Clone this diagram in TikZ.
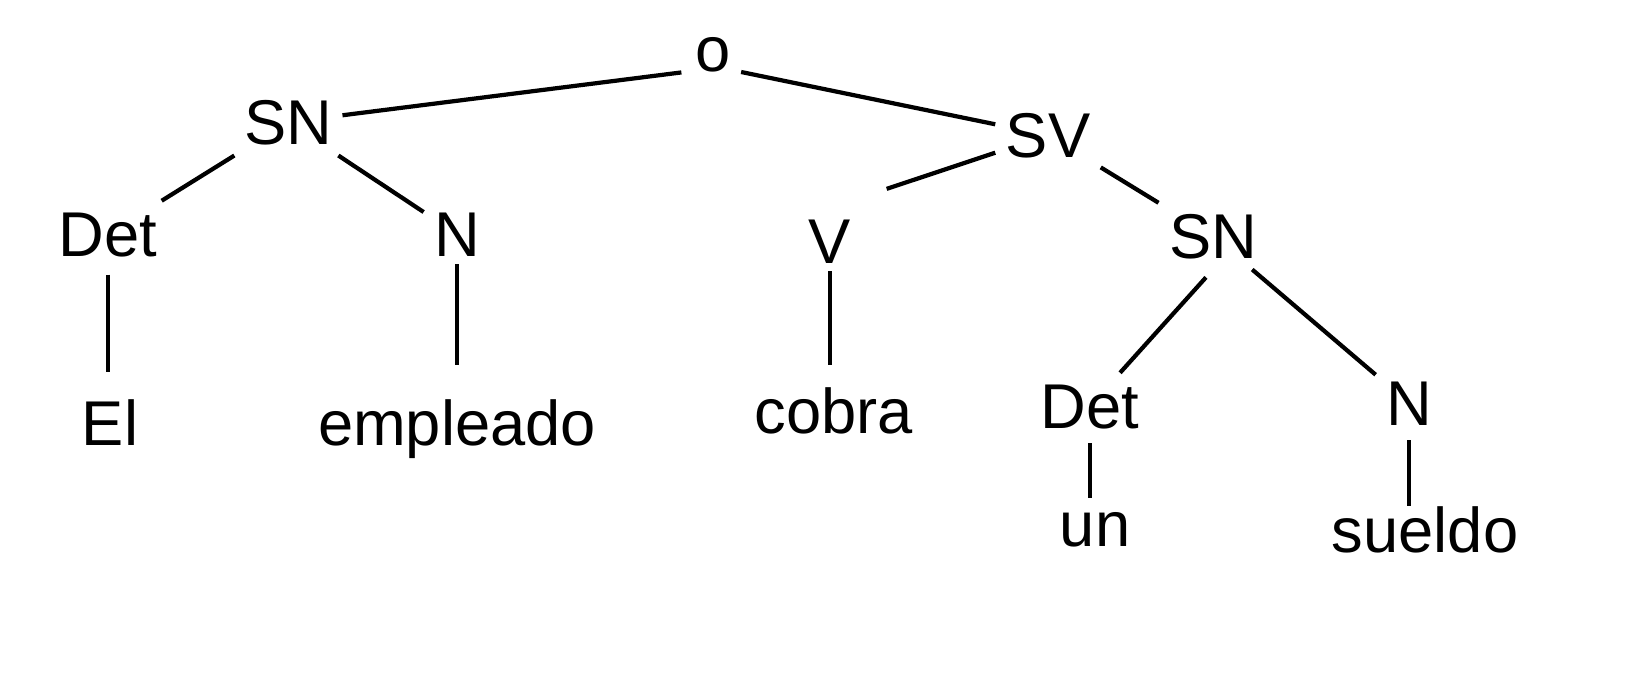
\documentclass[tikz,border=0pt]{standalone}
\usepackage{fontspec}
\setmainfont{Liberation Sans}
\usetikzlibrary{positioning}
\tikzstyle{cat} = [rectangle, inner sep=1pt, outer sep=2pt, text height=13pt,
                   text depth=0pt, font=\fontsize{18}{21}\selectfont]
\tikzstyle{branch} = [line width=1.2pt]

\begin{document}
\begin{tikzpicture}[on grid]
    \useasboundingbox (0,0) rectangle (16.43,-6.88);
    \node[cat,anchor=base] (o) at (7.13,-0.72) {o};
    \node[cat] (sn1) [below left=0.73cm and 4.25cm of o] {SN} edge [branch,shorten >=1pt] (o.base west);
    \node[cat] (sv1) [below right=0.86cm and 3.35cm of o] {SV} edge [branch] (o.base east);
    \node[cat] (det1) [below left=1.12cm and 1.80cm of sn1] {Det} edge [branch] (sn1);
    \node[cat] (n1) [below right=1.12cm and 1.69cm of sn1] {N} edge [branch] (sn1);
    \node[cat] (v1) [below left=1.06cm and 2.18cm of sv1] {V};
    \draw[branch,shorten >=17pt] (sv1) -- (v1.north);
    \node[cat] (sn2) [below right=1.01cm and 1.65cm of sv1] {SN} edge [branch] (sv1);
    \node[cat] (det2) [below left=1.70cm and 1.23cm of sn2] {Det} edge [branch,shorten >=3pt] (sn2.south);
    \node[cat] (n2) [below right=1.67cm and 1.96cm of sn2] {N} edge [branch] (sn2);
    % palabras
    \node[cat] (el) [below right=1.89cm and 0.02cm of det1] {El};
    \node[cat] (empleado) [below=1.89cm of n1] {empleado};
    \node[cat] (cobra) [below right=1.70cm and 0.04cm of v1] {cobra};
    \node[cat] (un) [below right=1.18cm and 0.05cm of det2] {un};
    \node[cat] (sueldo) [below right=1.27cm and 0.16cm of n2] {sueldo};
    \draw[branch,shorten <=2pt,shorten >=5pt] (det1) -- (det1 |- el.north);
    \draw[branch,shorten <=-1pt,shorten >=7pt] (n1) -- (n1 |- empleado.north);
    \draw[branch,shorten <=-1pt,shorten >=3.5pt] (v1) -- (v1 |- cobra.north);
    \draw[branch,shorten <=1pt,shorten >=-2pt] (det2) -- (det2 |- un.north);
    \draw[branch,shorten <=1pt,shorten >=-2.5pt] (n2) -- (n2 |- sueldo.north);
\end{tikzpicture}
\end{document}
